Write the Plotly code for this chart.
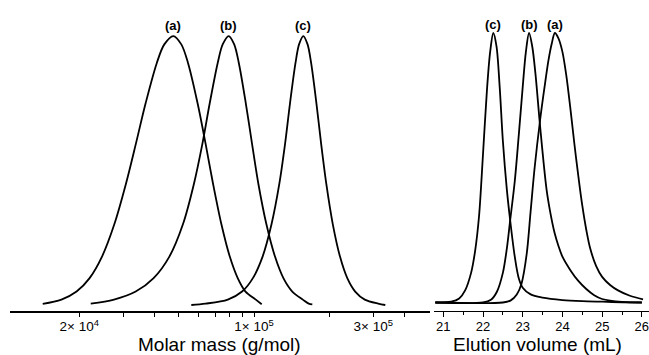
import math
import plotly.graph_objects as go

# ---------------- data: left panel (molar mass distributions) ----------------
mm_a = [14285, 16970, 19510, 22000, 24660, 27620, 30730, 33700, 36850, 40860, 43770, 47560, 51200,
        54450, 59480, 64020, 68600, 74060, 80010, 86070, 92470, 101670, 107350]
w_a = [0.004, 0.02, 0.05, 0.1, 0.18, 0.3, 0.45, 0.6, 0.75, 0.9, 0.969, 1.0, 0.969,
       0.9, 0.75, 0.6, 0.45, 0.3, 0.18, 0.1, 0.05, 0.02, 0.003]

mm_b = [22230, 27540, 33640, 39670, 45870, 51960, 57490, 62190, 66510, 71580, 74950, 79210, 83330,
        86950, 92730, 98180, 104140, 112110, 121340, 131100, 142270, 156750, 165530, 171110]
w_b = [0.005, 0.02, 0.05, 0.1, 0.18, 0.3, 0.45, 0.6, 0.75, 0.9, 0.969, 1.0, 0.969,
       0.9, 0.75, 0.6, 0.45, 0.3, 0.18, 0.1, 0.05, 0.02, 0.005, 0.002]

mm_c = [56130, 64020, 78560, 89610, 98990, 108240, 117490, 126240, 133170, 139320, 146550, 151420, 157470,
        163780, 169230, 177700, 185560, 194660, 206650, 220800, 236130, 253980, 277460, 313930, 335120]
w_c = [0.0, 0.005, 0.02, 0.05, 0.1, 0.18, 0.3, 0.45, 0.6, 0.75, 0.9, 0.969, 1.0,
       0.969, 0.9, 0.75, 0.6, 0.45, 0.3, 0.18, 0.1, 0.05, 0.02, 0.005, 0.0]

# ---------------- data: right panel (elution curves) ----------------
ev_a = [20.8, 22.5, 22.7, 22.85, 22.97, 23.1, 23.2, 23.3, 23.44, 23.55, 23.65, 23.73, 23.81,
        23.9, 24.0, 24.1, 24.2, 24.3, 24.4, 24.5, 24.6, 24.7, 24.85, 25.0, 25.2, 25.4, 25.7, 26.03]
s_a = [0.0, 0.0, 0.008, 0.03, 0.07, 0.18, 0.34, 0.5, 0.68, 0.8, 0.9, 0.96, 1.0,
       0.98, 0.93, 0.84, 0.72, 0.59, 0.47, 0.36, 0.27, 0.2, 0.135, 0.095, 0.065, 0.045, 0.025, 0.012]

ev_b = [20.8, 22.0, 22.2, 22.35, 22.5, 22.6, 22.68, 22.8, 22.9, 23.0, 23.08, 23.16,
        23.24, 23.32, 23.44, 23.6, 23.7, 23.8, 23.9, 24.0, 24.2, 24.4, 24.6, 24.8, 25.0, 25.5, 26.0]
s_b = [0.0, 0.0, 0.01, 0.04, 0.11, 0.2, 0.3, 0.45, 0.62, 0.8, 0.93, 1.0,
       0.95, 0.85, 0.65, 0.42, 0.33, 0.26, 0.21, 0.17, 0.12, 0.08, 0.05, 0.027, 0.013, 0.002, 0.0]

ev_c = [20.8, 21.2, 21.4, 21.55, 21.7, 21.8, 21.9, 22.0, 22.1, 22.18, 22.26,
        22.34, 22.42, 22.5, 22.6, 22.68, 22.8, 22.9, 23.0, 23.2, 23.5, 24.0, 24.5, 25.0, 25.5, 26.0]
s_c = [0.0, 0.003, 0.015, 0.045, 0.11, 0.19, 0.32, 0.55, 0.79, 0.93, 1.0,
       0.95, 0.8, 0.6, 0.42, 0.31, 0.17, 0.09, 0.055, 0.03, 0.018, 0.009, 0.005, 0.003, 0.001, 0.0]

left_labels = ["(a)", "(b)", "(c)"]
left_label_x = [47560, 79210, 157470]
right_labels = ["(c)", "(b)", "(a)"]
right_label_x = [22.26, 23.16, 23.81]

mm_tickvals = [20000, 30000, 40000, 50000, 60000, 70000, 80000, 90000, 100000, 200000, 300000, 400000]
mm_ticktext = ["2\u00d7 10<sup>4</sup>", "", "", "", "", "", "", "", "1\u00d7 10<sup>5</sup>", "",
               "3\u00d7 10<sup>5</sup>", ""]
ev_tickvals = [21, 22, 23, 24, 25, 26]
ev_ticktext = ["21", "22", "23", "24", "25", "26"]
x_titles = ["Molar mass (g/mol)", "Elution volume (mL)"]

FONT = "Liberation Sans, Arial, sans-serif"
line = dict(color="black", width=1.8, shape="spline", smoothing=0.9)

fig = go.Figure()
for x, y in [(mm_a, w_a), (mm_b, w_b), (mm_c, w_c)]:
    fig.add_trace(go.Scatter(x=x, y=y, mode="lines", line=line, xaxis="x", yaxis="y",
                             showlegend=False, hoverinfo="skip"))
for x, y in [(ev_a, s_a), (ev_b, s_b), (ev_c, s_c)]:
    fig.add_trace(go.Scatter(x=x, y=y, mode="lines", line=line, xaxis="x2", yaxis="y2",
                             showlegend=False, hoverinfo="skip"))

annotations = []
for t, xv in zip(left_labels, left_label_x):
    annotations.append(dict(x=math.log10(xv), y=1.04, xref="x", yref="y", text="<b>%s</b>" % t,
                            showarrow=False, font=dict(family=FONT, size=13, color="black")))
for t, xv in zip(right_labels, right_label_x):
    annotations.append(dict(x=xv, y=1.03, xref="x2", yref="y2", text="<b>%s</b>" % t,
                            showarrow=False, font=dict(family=FONT, size=13, color="black")))
# axis titles placed as annotations (paper coordinates; plot area spans 311 px)
for t, xc in zip(x_titles, [219 / 649, 537 / 649]):
    annotations.append(dict(x=xc, y=-33 / 311, xref="paper", yref="paper", text=t,
                            xanchor="center", yanchor="middle", showarrow=False,
                            font=dict(family=FONT, size=19, color="black")))

fig.update_layout(
    width=649, height=355,
    margin=dict(l=0, r=0, t=0, b=44),
    paper_bgcolor="white", plot_bgcolor="white",
    font=dict(family=FONT, color="black"),
    showlegend=False,
    annotations=annotations,
    xaxis=dict(
        type="log", domain=[10 / 649, 430 / 649], range=[4.024, 5.704],
        showline=True, linewidth=2, linecolor="black", showgrid=False, zeroline=False,
        ticks="outside", ticklen=4, tickwidth=1, tickcolor="black",
        tickvals=mm_tickvals, ticktext=mm_ticktext, tickfont=dict(size=13.5),
        automargin=False, anchor="y", ticklabelstandoff=-2,
    ),
    yaxis=dict(domain=[0, 1], range=[-0.0223, 1.134], visible=False, anchor="x"),
    xaxis2=dict(
        domain=[434 / 649, 1.0], range=[20.766, 26.18],
        showline=True, linewidth=1, linecolor="black", showgrid=False, zeroline=False,
        ticks="outside", ticklen=5, tickwidth=1, tickcolor="black",
        tickvals=ev_tickvals, ticktext=ev_ticktext, tickfont=dict(size=13),
        ticklabeloverflow="allow", ticklabelstandoff=-2,
        minor=dict(dtick=0.5, tick0=20.5, ticks="outside", ticklen=3, tickwidth=1, tickcolor="black", showgrid=False),
        automargin=False, anchor="y2",
    ),
    yaxis2=dict(domain=[0, 1], range=[-0.0315, 1.1224], visible=False, anchor="x2"),
)

fig.write_html("out.html", config={"displayModeBar": False},
               post_script="document.body.style.margin='0';document.body.style.padding='0';")
